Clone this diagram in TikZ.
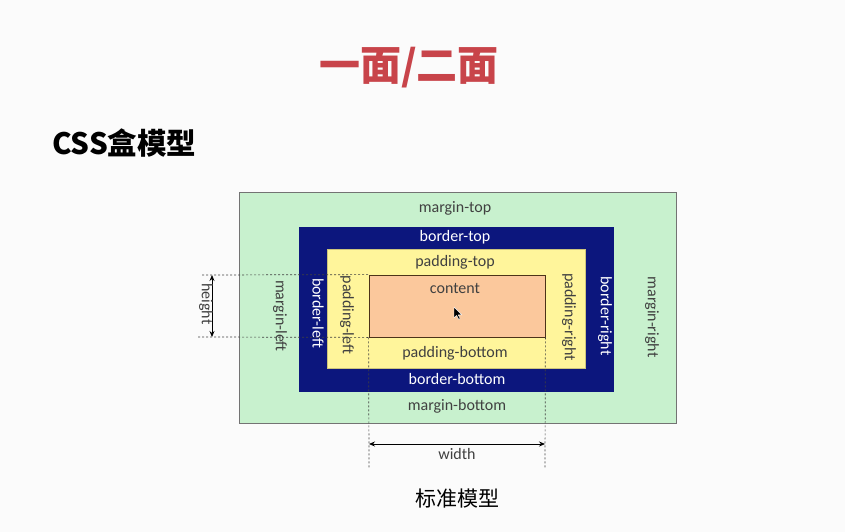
\documentclass[tikz,border=0pt]{standalone}
\usepackage{fontspec}
\setmainfont{Carlito}
\newfontfamily\cjk{Noto Sans CJK SC}
\usetikzlibrary{arrows.meta}

\definecolor{bg}{RGB}{251,251,251}
\definecolor{titlered}{RGB}{200,68,74}
\definecolor{marginc}{RGB}{200,241,206}
\definecolor{borderc}{RGB}{12,22,125}
\definecolor{paddingc}{RGB}{255,245,155}
\definecolor{contentc}{RGB}{251,200,156}
\definecolor{labelc}{RGB}{64,64,64}

\tikzset{
  layer/.style={draw=#1, line width=0.8pt, inner sep=0pt, anchor=center},
  lbl/.style={text=labelc, font=\fontsize{16}{18}\selectfont, inner sep=0pt, anchor=center},
  wlbl/.style={lbl, text=white},
  vlbl/.style={lbl, rotate=-90},
  wvlbl/.style={wlbl, rotate=-90},
  guide/.style={draw=black!75, line width=0.7pt, dash pattern=on 2pt off 2pt},
  dim/.style={draw=black, line width=0.8pt, {Stealth[length=6pt,width=5pt]}-{Stealth[length=6pt,width=5pt]}}
}

\begin{document}
\begin{tikzpicture}[x=1pt,y=-1pt]
  \fill[bg] (0,0) rectangle (845,532);
  \useasboundingbox (0,0) rectangle (845,532);

  % headings
  \node[text=titlered, font=\cjk\bfseries\fontsize{41}{45}\selectfont, anchor=center] (title) at (409,68) {一面/二面};
  \node[text=black, font=\cjk\bfseries\fontsize{29.5}{33}\selectfont, anchor=west, inner sep=0pt] (css) at (52,143) {CSS盒模型};

  % nested boxes
  \node[layer=black!55, fill=marginc, minimum width=437pt, minimum height=231pt] (margin) at (457.5,307.5) {};
  \node[layer=borderc, fill=borderc, minimum width=314pt, minimum height=164pt] (border) at (456,309) {};
  \node[layer=paddingc!80!black, line width=0.4pt, fill=paddingc, minimum width=258pt, minimum height=119pt] (padding) at (456,308.5) {};
  \node[layer=black!60!brown, line width=0.8pt, fill=contentc, minimum width=176pt, minimum height=62pt] (content) at (457,306) {};

  % horizontal labels
  \node[lbl]  (mt) at (455,208) {margin-top};
  \node[wlbl] (bt) at (455,237) {border-top};
  \node[lbl]  (pt) at (455,262) {padding-top};
  \node[lbl]  (ct) at (455,288) {content};
  \node[lbl]  (pb) at (455,353) {padding-bottom};
  \node[wlbl] (bb) at (457,379) {border-bottom};
  \node[lbl]  (mb) at (457,406) {margin-bottom};

  % vertical labels
  \node[vlbl]  (ml) at (280,316) {margin-left};
  \node[wvlbl] (bl) at (318,313) {border-left};
  \node[vlbl]  (pl) at (347,315) {padding-left};
  \node[vlbl]  (pr) at (569,317) {padding-right};
  \node[wvlbl] (br) at (605,316) {border-right};
  \node[vlbl]  (mr) at (652,317) {margin-right};

  % height dimension
  \coordinate (hgTop) at (202,275);
  \coordinate (hgBot) at (198,337);
  \coordinate (hA) at (212,275);
  \coordinate (hB) at (212,337);
  \draw[guide] (hgTop) -- (content.north west);
  \draw[guide] (hgBot) -- (content.south west);
  \draw[dim] (hA) -- (hB);
  \node[vlbl] (hl) at (206,304) {height};

  % width dimension
  \coordinate (wgL) at (369,468);
  \coordinate (wgR) at (545,468);
  \coordinate (wA) at (369,444);
  \coordinate (wB) at (545,444);
  \draw[guide] (content.south west) -- (wgL);
  \draw[guide] (content.south east) -- (wgR);
  \draw[dim] (wA) -- (wB);
  \node[lbl] (wl) at (457,454) {width};

  % caption
  \node[text=black, font=\cjk\fontsize{21}{24}\selectfont, anchor=center] (cap) at (457,499) {标准模型};

  % mouse pointer
  \filldraw[fill=black, draw=white, line width=0.4pt, line join=round]
    (454,307) -- ++(0,11) -- ++(2.6,-2.6) -- ++(2,4) -- ++(1.6,-0.8) -- ++(-2,-3.8) -- ++(3.6,0) -- cycle;
\end{tikzpicture}
\end{document}
